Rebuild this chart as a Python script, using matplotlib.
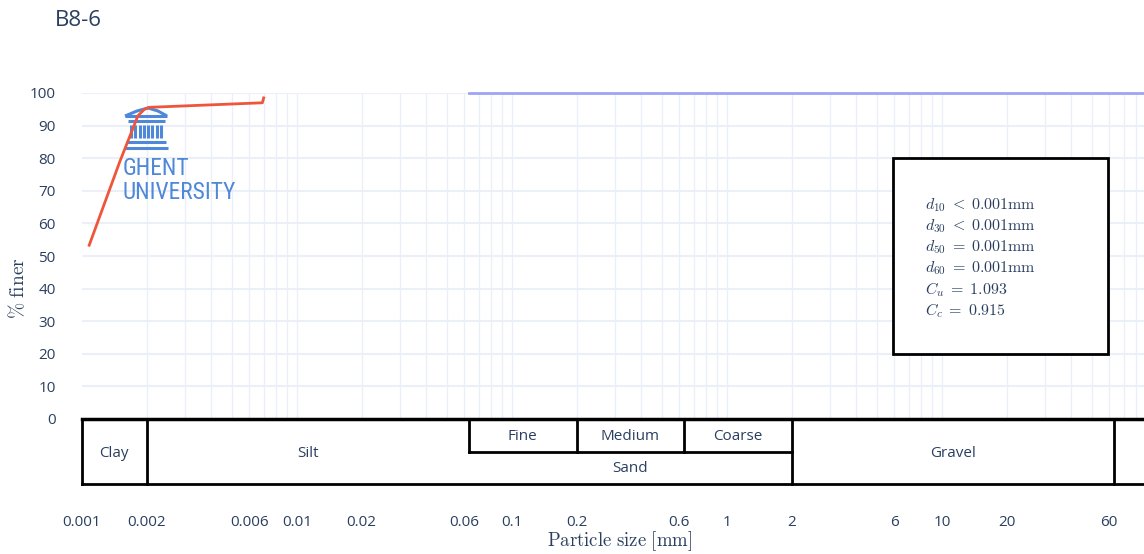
import numpy as np
import matplotlib
matplotlib.use('Agg')
import matplotlib.pyplot as plt
from matplotlib.lines import Line2D

plt.rcParams['mathtext.fontset'] = 'cm'
plt.rcParams['font.family'] = ['Open Sans', 'DejaVu Sans']

TXT = '#2a3f5f'
GRID = '#ebf0f8'
LOGO = '#4f88d9'

# grain size distribution of sample B8-6
size_mm = [0.00108, 0.0015, 0.00182, 0.00195, 0.00205, 0.0069, 0.0070]
pct_finer = [53.3, 79.0, 93.0, 95.0, 95.6, 97.0, 98.5]

# reference line (100 % finer)
ref_size = [0.063, 87.0]
ref_pct = [100, 100]

xticks = [0.001, 0.002, 0.006, 0.01, 0.02, 0.06, 0.1, 0.2, 0.6, 1, 2, 6, 10, 20, 60]
xtick_labels = ['0.001', '0.002', '0.006', '0.01', '0.02', '0.06', '0.1', '0.2',
                '0.6', '1', '2', '6', '10', '20', '60']
yticks = list(range(0, 101, 10))

# soil classification bands: (name, lower, upper, row) row 0 = full height
bands = [('Clay', 0.001, 0.002, 0), ('Silt', 0.002, 0.063, 0),
         ('Fine', 0.063, 0.2, 2), ('Medium', 0.2, 0.63, 2), ('Coarse', 0.63, 2, 2),
         ('Sand', 0.063, 2, 1), ('Gravel', 2, 63, 0), ('', 63, 87.0, 0)]

stats = [r'$d_{10}\;<\;0.001\mathrm{mm}$', r'$d_{30}\;<\;0.001\mathrm{mm}$',
         r'$d_{50}\;=\;0.001\mathrm{mm}$', r'$d_{60}\;=\;0.001\mathrm{mm}$',
         r'$C_u\;=\;1.093$', r'$C_c\;=\;0.915$']

W, H = 1144, 554
fig = plt.figure(figsize=(W / 100, H / 100), dpi=100)


def fx(px):
    return px / W


def fy(py):
    return 1 - py / H


ax = fig.add_axes([fx(82), fy(419), fx(1144) - fx(82), fy(93) - fy(419)])
tab = fig.add_axes([fx(82), fy(484), fx(1144) - fx(82), fy(419) - fy(484)], sharex=ax)

xmin, xmax = 0.001, 87.0
ax.set_xscale('log')
ax.set_xlim(xmin, xmax)
ax.set_ylim(0, 100)

# grid
minor = [m * 10.0 ** e for e in range(-3, 2) for m in range(1, 10)]
for v in minor:
    if xmin < v < xmax:
        ax.axvline(v, color=GRID, lw=1, zorder=0)
for v in yticks[1:]:
    ax.axhline(v, color=GRID, lw=1.5, zorder=0)

ax.plot(ref_size, ref_pct, color='#9ea3f7', lw=2, zorder=2, clip_on=False)
ax.plot(size_mm, pct_finer, color='#ef553b', lw=2, zorder=3)

for s in ax.spines.values():
    s.set_visible(False)
ax.set_yticks(yticks)
ax.set_yticklabels([str(v) for v in yticks])
ax.tick_params(axis='y', length=0, pad=19, labelsize=11, labelcolor=TXT)
ax.tick_params(axis='x', which='both', length=0, labelbottom=False)

# statistics box
ax.add_patch(plt.Rectangle((5.9, 20), 59.2 - 5.9, 60, fill=True, facecolor='white',
                           edgecolor='black', lw=2, zorder=4))
for i, s in enumerate(stats):
    ax.text(8.3, 65.5 - i * 6.44, s, fontsize=11.5, color=TXT, va='center', ha='left', zorder=5)

# classification table
tab.set_ylim(0, 2)
for s in tab.spines.values():
    s.set_visible(False)
tab.set_yticks([])
tab.axhline(2, color='black', lw=2.5, clip_on=False)
tab.axhline(0, color='black', lw=2, clip_on=False)
tab.plot([0.063, 2], [1, 1], color='black', lw=2)
for name, lo, hi, row in bands:
    xc = np.sqrt(lo * hi)
    if row == 0:
        tab.plot([lo, lo], [0, 2], color='black', lw=2, clip_on=False)
        yc = 0.95
    elif row == 2:
        tab.plot([lo, lo], [1, 2], color='black', lw=2)
        yc = 1.47
    else:
        yc = 0.47
    tab.text(xc, yc, name, ha='center', va='center', fontsize=11, color=TXT)
tab.set_xticks(xticks)
tab.set_xticklabels(xtick_labels)
tab.xaxis.set_minor_locator(matplotlib.ticker.NullLocator())
tab.tick_params(axis='x', which='both', length=0, pad=22, labelsize=11, labelcolor=TXT)

fig.text(fx(620), fy(541), r'$\mathrm{Particle\ size\ [mm]}$', ha='center', va='center',
         fontsize=13.5, color=TXT)
fig.text(fx(18), fy(288), r'$\%\ \mathrm{finer}$', ha='center', va='center',
         rotation=90, fontsize=14, color=TXT)
fig.text(fx(55), fy(20), 'B8-6', ha='left', va='center', fontsize=16, color=TXT)

# Ghent University logo: above the grid, below the data
logo_lines = [
    [(125, 116), (137, 111), (148, 108), (158, 111), (167, 116)],
    [(125, 116), (167, 116)],
    [(128, 121), (165, 121)],
    [(126, 142), (166, 142)],
    [(125, 148), (168, 148)],
]
for cx in np.linspace(131, 161, 8):
    logo_lines.append([(cx, 125), (cx, 138)])
for pts in logo_lines:
    ax.add_line(Line2D([fx(p[0]) for p in pts], [fy(p[1]) for p in pts],
                       transform=fig.transFigure, color=LOGO, lw=2.2,
                       solid_capstyle='butt', zorder=1, clip_on=False))
logo_font = ['Roboto Condensed', 'Roboto', 'DejaVu Sans']
ax.text(fx(123), fy(175), 'GHENT', transform=fig.transFigure, ha='left', va='baseline',
        fontsize=16.8, color=LOGO, family=logo_font, zorder=1)
ax.text(fx(123), fy(199), 'UNIVERSITY', transform=fig.transFigure, ha='left', va='baseline',
        fontsize=16.8, color=LOGO, family=logo_font, zorder=1)

fig.savefig('out.png', dpi=100)
